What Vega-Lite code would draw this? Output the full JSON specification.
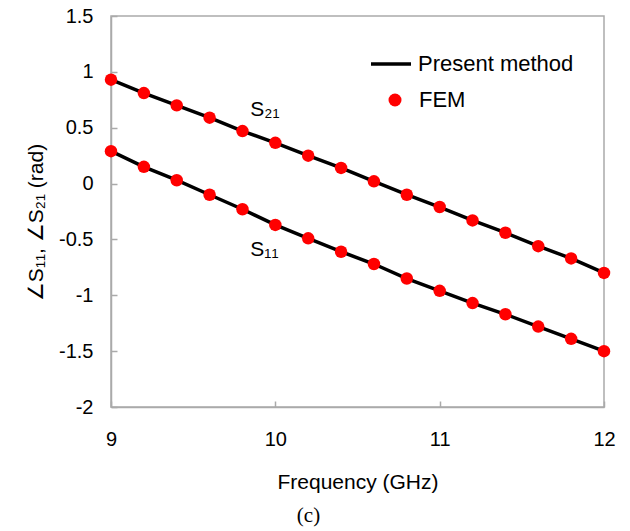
{
  "$schema": "https://vega.github.io/schema/vega-lite/v6.json",
  "width": 493,
  "height": 391,
  "autosize": {"type": "none"},
  "padding": {"left": 111, "top": 16, "right": 26, "bottom": 124},
  "background": "white",
  "config": {
    "view": {"stroke": "#aaaaaa", "strokeWidth": 1.5},
    "font": "Liberation Sans",
    "axis": {
      "grid": false,
      "domainColor": "#aaaaaa",
      "domainWidth": 1.5,
      "tickColor": "#aaaaaa",
      "tickWidth": 1.5,
      "tickSize": -6,
      "labelFlush": false,
      "labelFont": "Liberation Sans",
      "labelFontSize": 20,
      "labelColor": "black",
      "titleFont": "Liberation Sans",
      "titleFontSize": 21,
      "titleFontWeight": "normal",
      "titleColor": "black"
    },
    "legend": {
      "labelFont": "Liberation Sans",
      "labelFontSize": 22,
      "labelColor": "black",
      "padding": 0
    }
  },
  "title": {
    "text": "(c)",
    "orient": "bottom",
    "anchor": "middle",
    "font": "Liberation Serif",
    "fontSize": 21,
    "fontWeight": "normal",
    "color": "black",
    "dx": -49,
    "offset": 13
  },
  "datasets": {
    "curves": [
      {"f": 9.0, "s": "S21", "v": 0.93}, {"f": 9.2, "s": "S21", "v": 0.81}, {"f": 9.4, "s": "S21", "v": 0.70}, {"f": 9.6, "s": "S21", "v": 0.59},
      {"f": 9.8, "s": "S21", "v": 0.47}, {"f": 10.0, "s": "S21", "v": 0.365}, {"f": 10.2, "s": "S21", "v": 0.25}, {"f": 10.4, "s": "S21", "v": 0.14},
      {"f": 10.6, "s": "S21", "v": 0.02}, {"f": 10.8, "s": "S21", "v": -0.10}, {"f": 11.0, "s": "S21", "v": -0.21}, {"f": 11.2, "s": "S21", "v": -0.33},
      {"f": 11.4, "s": "S21", "v": -0.44}, {"f": 11.6, "s": "S21", "v": -0.56}, {"f": 11.8, "s": "S21", "v": -0.67}, {"f": 12.0, "s": "S21", "v": -0.80},
      {"f": 9.0, "s": "S11", "v": 0.29}, {"f": 9.2, "s": "S11", "v": 0.15}, {"f": 9.4, "s": "S11", "v": 0.03}, {"f": 9.6, "s": "S11", "v": -0.10},
      {"f": 9.8, "s": "S11", "v": -0.23}, {"f": 10.0, "s": "S11", "v": -0.37}, {"f": 10.2, "s": "S11", "v": -0.49}, {"f": 10.4, "s": "S11", "v": -0.61},
      {"f": 10.6, "s": "S11", "v": -0.72}, {"f": 10.8, "s": "S11", "v": -0.85}, {"f": 11.0, "s": "S11", "v": -0.96}, {"f": 11.2, "s": "S11", "v": -1.07},
      {"f": 11.4, "s": "S11", "v": -1.17}, {"f": 11.6, "s": "S11", "v": -1.28}, {"f": 11.8, "s": "S11", "v": -1.39}, {"f": 12.0, "s": "S11", "v": -1.50}
    ],
    "labels": [
      {"f": 9.848, "v": 0.605, "t": "S₂₁"},
      {"f": 9.848, "v": -0.65, "t": "S₁₁"}
    ]
  },
  "encoding": {
    "x": {
      "field": "f", "type": "quantitative",
      "scale": {"domain": [9, 12], "nice": false, "zero": false},
      "axis": {"values": [9, 10, 11, 12], "title": "Frequency (GHz)", "labelPadding": 28, "titlePadding": 22}
    },
    "y": {
      "field": "v", "type": "quantitative",
      "scale": {"domain": [-2, 1.5], "nice": false, "zero": false},
      "axis": {"values": [-2, -1.5, -1, -0.5, 0, 0.5, 1, 1.5], "title": "∠S₁₁, ∠S₂₁   (rad)", "labelPadding": 24, "titlePadding": 12, "titleY": 206, "labelExpr": "datum.value"}
    }
  },
  "layer": [
    {
      "data": {"name": "curves"},
      "mark": {"type": "line", "strokeWidth": 3.5},
      "encoding": {
        "detail": {"field": "s"},
        "stroke": {
          "datum": "Present method",
          "scale": {"domain": ["Present method"], "range": ["black"]},
          "legend": {"title": null, "orient": "none", "legendX": 258, "legendY": 26, "symbolType": "stroke", "symbolSize": 1600, "symbolStrokeWidth": 3.5, "labelOffset": 5}
        }
      }
    },
    {
      "data": {"name": "curves"},
      "mark": {"type": "point", "filled": true, "size": 156, "opacity": 1, "shape": "circle"},
      "encoding": {
        "fill": {
          "datum": "FEM",
          "scale": {"domain": ["FEM"], "range": ["#ff0000"]},
          "legend": {"title": null, "orient": "none", "legendX": 273, "legendY": 73, "symbolType": "circle", "symbolSize": 169, "symbolOpacity": 1, "symbolStrokeWidth": 0, "labelOffset": 13}
        }
      }
    },
    {
      "data": {"name": "labels"},
      "mark": {"type": "text", "align": "left", "baseline": "alphabetic", "fontSize": 21, "font": "Liberation Sans", "color": "black"},
      "encoding": {"text": {"field": "t"}}
    }
  ]
}
